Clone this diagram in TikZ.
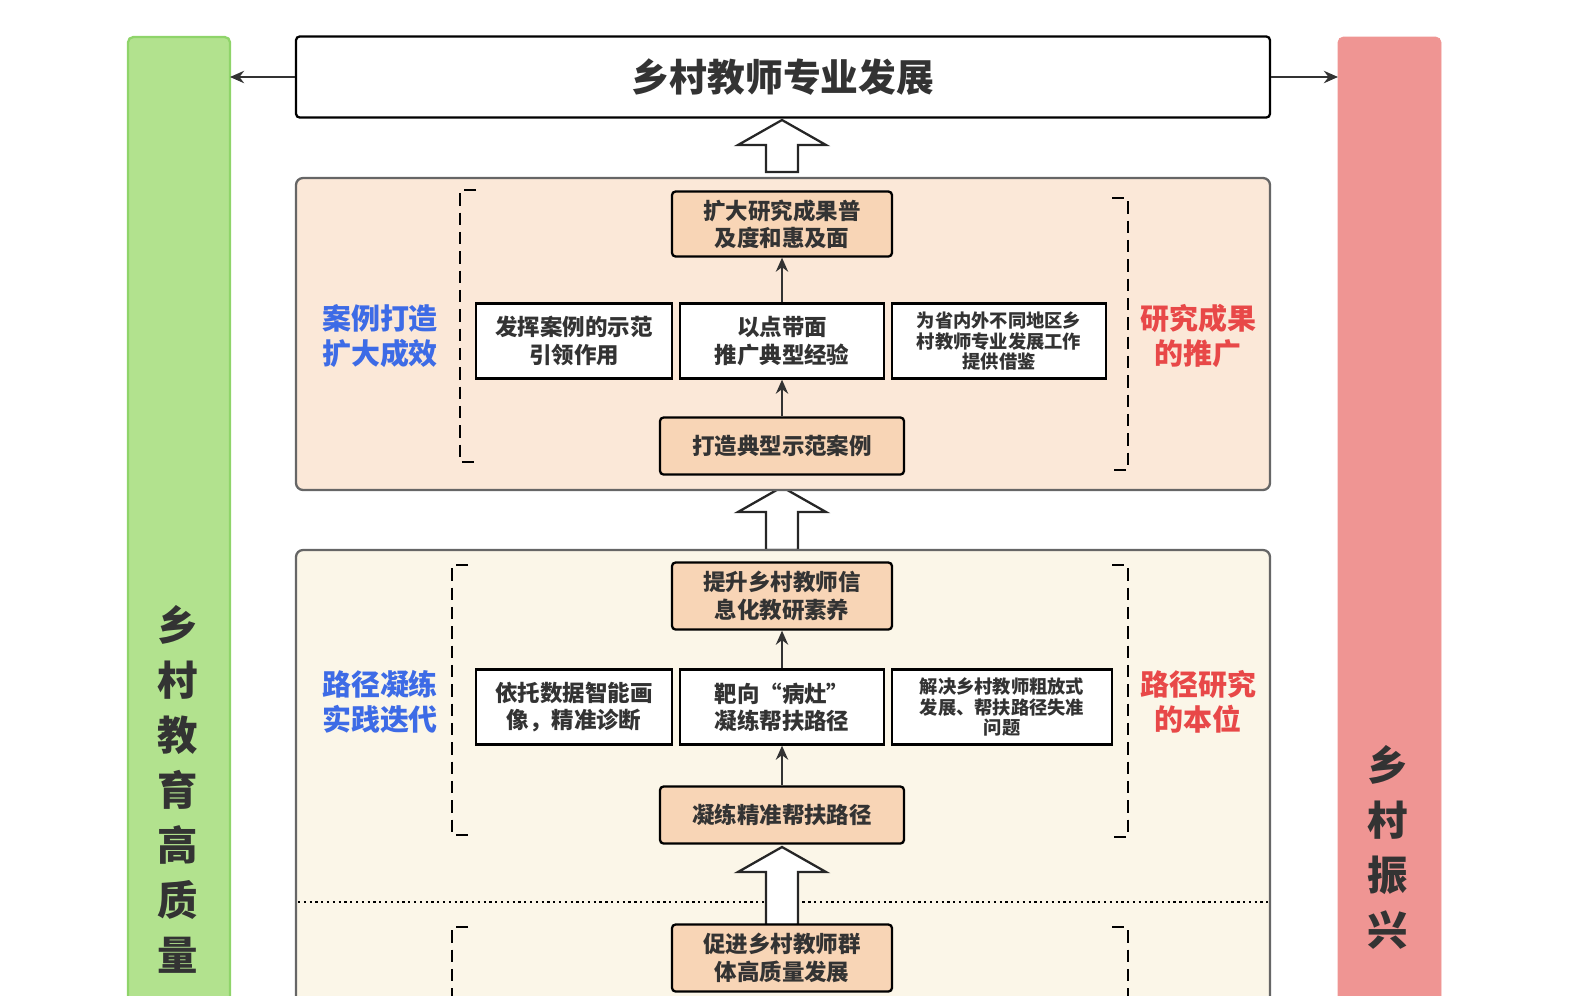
\documentclass[tikz,border=0pt]{standalone}
\usepackage{fontspec}
\setmainfont{Noto Sans CJK SC}
\usetikzlibrary{positioning,arrows.meta}
\definecolor{txt}{HTML}{333333}
\definecolor{greenbar}{HTML}{B2E28E}
\definecolor{greenline}{HTML}{8FD46A}
\definecolor{redbar}{HTML}{EF9593}
\definecolor{panelA}{HTML}{FBE8D8}
\definecolor{panelB}{HTML}{FBF6E8}
\definecolor{boxfill}{HTML}{F8D5B6}
\definecolor{bluetxt}{HTML}{3D6BE6}
\definecolor{redtxt}{HTML}{E84848}
\tikzset{
  box/.style={draw=black, line width=1.3pt, fill=white, align=center, text=txt,
    font=\fontsize{12.8}{15.5}\selectfont\bfseries, inner sep=0pt},
  keybox/.style={box, fill=boxfill, rounded corners=2pt},
  small/.style={font=\fontsize{10.4}{11.8}\selectfont\bfseries},
  panel/.style={draw=black!60, line width=1.3pt, rounded corners=4pt},
  side/.style={font=\fontsize{16.5}{20}\selectfont\bfseries, align=center},
  bracket/.style={line width=1.2pt, dash pattern=on 7pt off 4pt},
  hollow/.style={draw=black!85, fill=white, line width=1.3pt},
  link/.style={-{Stealth[length=8pt,width=7pt]}, line width=1.3pt, draw=txt},
  vert/.style={font=\fontsize{23}{23}\selectfont\bfseries, text=txt}
}
\begin{document}
\begin{tikzpicture}[x=0.02cm, y=-0.02cm]
\useasboundingbox (0,0) rectangle (1593,995);
\clip (0,0) rectangle (1593,995);
% side bars
\draw[fill=greenbar, draw=greenline, line width=1.3pt, rounded corners=3pt] (128,37) rectangle (230,1010);
\draw[fill=redbar, draw=redbar, rounded corners=3pt] (1338,37) rectangle (1441,1010);
\foreach \c [count=\i from 0] in {乡,村,教,育,高,质,量}
  \node[vert] (g\i) at (178,625+55*\i) {\c};
\foreach \c [count=\i from 0] in {乡,村,振,兴}
  \node[vert] (r\i) at (1388,765+55*\i) {\c};
\coordinate (gbar) at (230,77);
\coordinate (rbar) at (1338,77);
% title
\node[box, minimum width=19.48cm, minimum height=1.62cm, rounded corners=2pt,
  font=\fontsize{21.5}{25}\selectfont\bfseries] (title) at (783,77) {乡村教师专业发展};
\draw[link] (title.west) -- (gbar);
\draw[link] (title.east) -- (rbar);
% hollow arrows
\foreach \t/\b in {120/172, 487/550}
  \draw[hollow] (782,\t) -- (826,\t+25) -- (798,\t+25) -- (798,\b) -- (766,\b) -- (766,\t+25) -- (738,\t+25) -- cycle;
% panel 1
\draw[panel, fill=panelA] (296,178) rectangle (1270,490);
\draw[bracket] (476,190) -- (460,190) -- (460,462) -- (476,462);
\draw[bracket] (1112,198) -- (1128,198) -- (1128,470) -- (1112,470);
\node[side, text=bluetxt] (caseL) at (380,336) {案例打造\\扩大成效};
\node[side, text=redtxt] (caseR) at (1198,336) {研究成果\\的推广};
\node[keybox, minimum width=4.4cm, minimum height=1.3cm] (expand) at (782,224) {扩大研究成果普\\及度和惠及面};
\node[box, minimum width=3.92cm, minimum height=1.5cm] (lead) at (574,341) {发挥案例的示范\\引领作用};
\node[box, minimum width=4.08cm, minimum height=1.5cm] (spread) at (782,341) {以点带面\\推广典型经验};
\node[box, small, minimum width=4.28cm, minimum height=1.5cm] (ref) at (999,341) {为省内外不同地区乡\\村教师专业发展工作\\提供借鉴};
\node[keybox, minimum width=4.88cm, minimum height=1.14cm] (build) at (782,446) {打造典型示范案例};
\draw[link] (build) -- (spread);
\draw[link] (spread) -- (expand);
% panel 2
\draw[panel, fill=panelB] (296,550) rectangle (1270,1020);
\draw[dotted, line width=1.3pt] (298,902) -- (1268,902);
\draw[hollow] (782,847) -- (826,872) -- (798,872) -- (798,925) -- (766,925) -- (766,872) -- (738,872) -- cycle;
\draw[bracket] (468,565) -- (452,565) -- (452,835) -- (468,835);
\draw[bracket] (1112,565) -- (1128,565) -- (1128,837) -- (1112,837);
\draw[bracket] (468,927) -- (452,927) -- (452,1000);
\draw[bracket] (1112,927) -- (1128,927) -- (1128,1000);
\node[side, text=bluetxt] (pathL) at (380,702) {路径凝练\\实践迭代};
\node[side, text=redtxt] (pathR) at (1198,702) {路径研究\\的本位};
\node[keybox, minimum width=4.4cm, minimum height=1.34cm] (info) at (782,596) {提升乡村教师信\\息化教研素养};
\node[box, minimum width=3.92cm, minimum height=1.5cm] (data) at (574,707) {依托数据智能画\\像，精准诊断};
\node[box, minimum width=4.08cm, minimum height=1.5cm] (target) at (782,707) {靶向“病灶”\\凝练帮扶路径};
\node[box, small, minimum width=4.4cm, minimum height=1.5cm] (solve) at (1002,707) {解决乡村教师粗放式\\发展、帮扶路径失准\\问题};
\node[keybox, minimum width=4.88cm, minimum height=1.14cm] (refine) at (782,815) {凝练精准帮扶路径};
\draw[link] (refine) -- (target);
\draw[link] (target) -- (info);
\node[keybox, minimum width=4.4cm, minimum height=1.34cm] (group) at (782,958) {促进乡村教师群\\体高质量发展};
\end{tikzpicture}
\end{document}
